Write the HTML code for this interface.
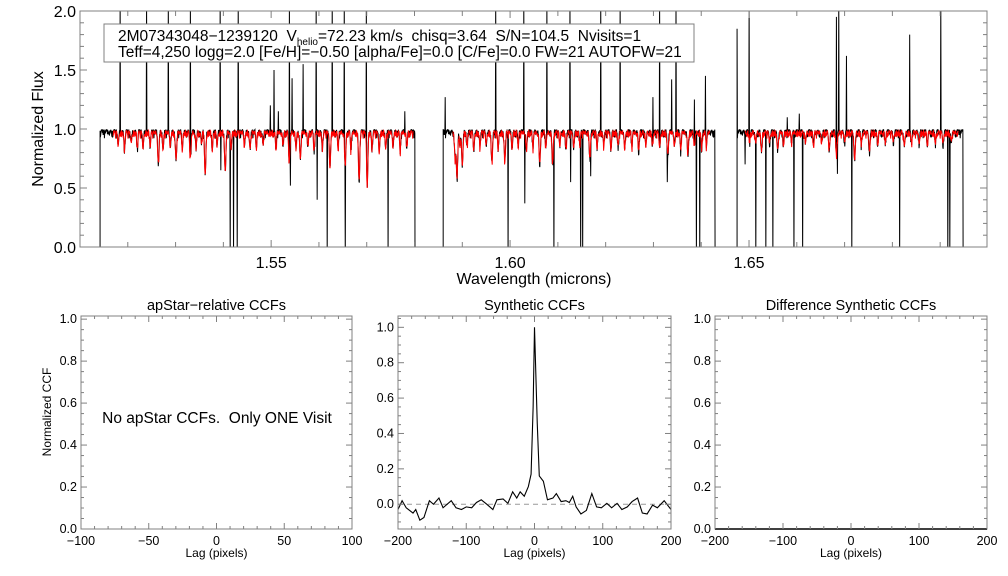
<!DOCTYPE html>
<html><head><meta charset="utf-8">
<style>
html,body{margin:0;padding:0;background:#fff;}
svg{display:block;font-family:"Liberation Sans",Arial,sans-serif;}
</style></head>
<body>
<svg id="chart" width="1008" height="576" viewBox="0 0 1008 576" xmlns="http://www.w3.org/2000/svg">
<defs>
<clipPath id="clipTop"><rect x="80" y="11" width="907" height="236"/></clipPath>
<clipPath id="clipMid"><rect x="398" y="316" width="273" height="213"/></clipPath>
</defs>
<rect width="1008" height="576" fill="#fff"/>
<g id="topPanel"></g>
<g id="p1"></g>
<g id="p2"></g>
<g id="p3"></g>
</svg>
<script>
// ---------- Spectrum data ----------
const chipStarts = [1.5142, 1.5860, 1.6475];
const chipEnds = [1.5801, 1.6429, 1.6948];
const modelStarts = [1.5169, 1.5880, 1.6492];
const modelEnds = [1.5797, 1.6418, 1.6938];
const weakLineWaves = [1.5180,1.5193,1.5207,1.5220,1.5232,1.5247,1.5274,1.5289,1.5314,1.5343,1.5354,1.5377,1.5387,1.5416,1.5444,1.5456,1.5469,1.5483,1.5510,1.5525,1.5552,1.5577,1.5590,1.5607,1.5640,1.5667,1.5711,1.5726,1.5740,1.5755,1.5770,1.5784,
1.5895,1.5910,1.5924,1.5937,1.5950,1.5975,1.6004,1.6017,1.6034,1.6048,1.6075,1.6104,1.6117,1.6133,1.6146,1.6182,1.6196,1.6211,1.6226,1.6240,1.6255,1.6269,1.6284,1.6298,1.6313,1.6344,1.6357,1.6386,1.6401,1.6411,
1.6501,1.6514,1.6543,1.6572,1.6589,1.6618,1.6635,1.6652,1.6700,1.6735,1.6769,1.6785,1.6802,1.6840,1.6856,1.6873,1.6890,1.6906,1.6923];
const weakLineFlux = [0.86,0.84,0.88,0.85,0.83,0.87,0.82,0.86,0.84,0.85,0.88,0.83,0.86,0.84,0.87,0.82,0.85,0.86,0.83,0.87,0.84,0.86,0.82,0.85,0.84,0.83,0.85,0.80,0.84,0.86,0.82,0.85,
0.84,0.86,0.82,0.85,0.87,0.83,0.84,0.86,0.82,0.85,0.84,0.86,0.83,0.85,0.87,0.84,0.86,0.83,0.85,0.84,0.86,0.82,0.85,0.87,0.84,0.86,0.83,0.85,0.84,0.86,
0.90,0.88,0.89,0.87,0.90,0.88,0.86,0.89,0.90,0.88,0.87,0.89,0.90,0.88,0.89,0.87,0.90,0.88,0.89];
const strongLineWaves = [1.5264,1.5301,1.5331,1.5362,1.5404,1.5538,1.5561,1.5623,1.5655,1.5684,1.5701,
1.5885,1.5889,1.5900,1.5962,1.5989,1.6062,1.6089,1.6167,1.6330,1.6372,
1.6526,1.6560,1.6668,1.6683,1.6721,1.6752,1.6825];
const strongLineFlux = [0.71,0.73,0.75,0.60,0.63,0.72,0.75,0.68,0.70,0.56,0.52,
0.75,0.57,0.70,0.72,0.73,0.72,0.72,0.77,0.78,0.80,
0.83,0.82,0.83,0.78,0.73,0.82,0.86];
// small-scale texture of the spectra (hand-read ripple amplitudes)
const ripple = [0.000,-0.025,0.010,-0.040,-0.005,0.015,-0.030,-0.060,0.005,-0.015,0.012,-0.045,-0.020,0.008,-0.035,0.004,-0.010,-0.070,-0.018,0.010,-0.028,-0.005,0.014,-0.050,-0.012,0.006,-0.038,-0.022,0.011,-0.008,-0.055,0.002,-0.016,0.009,-0.032,-0.004,0.013];
const spikeWaves = [1.5184,1.5239,1.5285,1.5331,1.5393,1.5431,1.5538,1.5594,1.5628,1.5653,1.5699,1.5498,1.5506,1.5515,1.5544,1.5567,1.5780,
1.5414,1.5421,1.5429,1.5617,1.5655,1.5745,1.5540,1.5596,1.5395,
1.5970,1.6029,1.6077,1.6125,1.6190,1.6230,1.6313,1.6347,1.5864,1.6338,1.6386,1.6299,1.6409,
1.5996,1.6092,1.6148,1.6152,1.6390,1.6397,1.6031,1.6127,1.6329,1.6169,
1.6500,1.6688,1.6901,1.6475,1.6683,1.6704,1.6836,1.6580,1.6605,
1.6514,1.6535,1.6550,1.6594,1.6612,1.6715,1.6815,1.6916,1.6920,1.6492,1.6685];
const spikeFlux = [2.1,2.1,2.1,2.1,2.1,2.1,2.1,2.1,2.1,2.1,2.1,1.2,1.5,1.15,1.43,1.55,1.15,
-0.1,-0.1,-0.1,-0.1,-0.1,-0.1,0.52,0.4,0.65,
2.1,2.1,2.1,2.1,2.1,2.1,2.1,2.1,1.27,1.42,1.25,1.27,1.45,
-0.1,-0.1,-0.1,-0.1,-0.1,-0.1,0.37,0.55,0.55,0.6,
2.1,2.1,2.1,1.85,1.95,1.62,1.8,1.1,1.13,
-0.1,-0.1,-0.1,-0.1,-0.1,-0.1,-0.1,-0.1,-0.1,0.7,0.62];
const specYTicks = [0.0,0.5,1.0,1.5,2.0];
const specXTicks = [1.55,1.60,1.65];

// ---------- CCF data ----------
const ccfLags = [-200,-194,-188,-178,-174,-168,-162,-154,-148,-140,-134,-122,-115,-107,-100,-92,-85,-78,-70,-61,-55,-46,-39,-32,-26,-21,-15,-9,-5,-2,0,4,7,13,19,27,32,39,46,51,56,61,68,76,84,91,98,106,113,121,128,136,143,151,158,165,173,180,190,200];
const ccfVals = [-0.03,0.02,-0.02,-0.05,-0.03,-0.09,-0.075,0.02,0.0,0.035,-0.02,0.02,-0.02,-0.03,-0.015,-0.02,0.01,0.025,0.0,-0.03,0.025,0.03,0.005,0.07,0.035,0.07,0.045,0.1,0.17,0.55,1.0,0.46,0.16,0.13,0.025,0.035,0.06,0.015,0.02,0.01,0.045,-0.015,-0.055,-0.035,0.06,-0.015,-0.02,0.005,-0.02,0.005,-0.03,-0.015,0.015,0.035,-0.05,-0.055,-0.005,-0.02,0.02,-0.03];
const diffLags = [-200,-100,0,100,200];
const diffVals = [0,0,0,0,0];
const ccfYTicks = [0.0,0.2,0.4,0.6,0.8,1.0];
const lagTicksNarrow = [-100,-50,0,50,100];
const lagTicksWide = [-200,-100,0,100,200];

const NS = "http://www.w3.org/2000/svg";
function mk(parent, tag, attrs){
  const e = document.createElementNS(NS, tag);
  for (const k in attrs) e.setAttribute(k, attrs[k]);
  parent.appendChild(e); return e;
}
const AX = "#808080";

// ---------- Spectrum panel ----------
const topG = document.getElementById('topPanel');
const X0=80, X1=987, Y0=11, Y1=247;
const WL0=1.5100, WL1=1.6998, F0=0, F1=2.0;
const sx = w => X0 + (w-WL0)/(WL1-WL0)*(X1-X0);
const sy = f => Y1 - (f-F0)/(F1-F0)*(Y1-Y0);

function modelFlux(w, cont){
  let f = cont;
  for (let i=0;i<weakLineWaves.length;i++){
    const d = (w-weakLineWaves[i])/0.00011;
    f -= (cont-weakLineFlux[i])*Math.exp(-0.5*d*d);
  }
  for (let i=0;i<strongLineWaves.length;i++){
    const d = (w-strongLineWaves[i])/0.00013;
    f -= (cont-strongLineFlux[i])*Math.exp(-0.5*d*d);
  }
  return f;
}
const step = 0.00007;
const obsG = mk(topG,'g',{'clip-path':'url(#clipTop)'});


const modG = mk(topG,'g',{'clip-path':'url(#clipTop)'});


for (let c=0;c<chipStarts.length;c++){
  const ws=[], fs=[];
  let k=0;
  for (let w=chipStarts[c]; w<=chipEnds[c]; w+=step){ ws.push(w); fs.push(modelFlux(w,0.985)+ripple[(k*7+c*5)%ripple.length]*0.9); k++; }
  for (let s=0;s<spikeWaves.length;s++){
    const w=spikeWaves[s];
    if (w<chipStarts[c]||w>chipEnds[c]) continue;
    const i=Math.round((w-chipStarts[c])/step);
    if (i>=0&&i<fs.length) fs[i]=spikeFlux[s];
  }
  let d = "M"+sx(chipStarts[c]).toFixed(2)+","+sy(-0.1).toFixed(2);
  for (let i=0;i<ws.length;i++) d+="L"+sx(ws[i]).toFixed(2)+","+sy(fs[i]).toFixed(2);
  d+="L"+sx(chipEnds[c]).toFixed(2)+","+sy(-0.1).toFixed(2);
  const p = mk(obsG,'path',{d:d,fill:'none',stroke:'#000','stroke-width':1});
  
  
  let dm=""; k=0;
  for (let w=modelStarts[c]; w<=modelEnds[c]; w+=step){
    const f = modelFlux(w,0.975)+ripple[(k*11+3+c)%ripple.length]*0.8;
    dm += (dm?"L":"M")+sx(w).toFixed(2)+","+sy(f).toFixed(2);
    k++;
  }
  const pm = mk(modG,'path',{d:dm,fill:'none',stroke:'#f00','stroke-width':1});
  
  
}
const fr = mk(topG,'rect',{x:X0,y:Y0,width:X1-X0,height:Y1-Y0,fill:'none',stroke:AX,'stroke-width':1});


for (let v=0; v<=20; v++){
  const f=v/10, y=sy(f), L=(v%5===0)?7:4;
  mk(topG,'line',{x1:X0,y1:y,x2:X0+L,y2:y,stroke:AX});
  mk(topG,'line',{x1:X1,y1:y,x2:X1-L,y2:y,stroke:AX});
}
for (let v=151; v<=169; v++){
  const w=v/100, x=sx(w), L=(v%5===0)?7:5;
  mk(topG,'line',{x1:x,y1:Y1,x2:x,y2:Y1-L,stroke:AX});
  mk(topG,'line',{x1:x,y1:Y0,x2:x,y2:Y0+L,stroke:AX});
}
specYTicks.forEach(v=>{
  const t=mk(topG,'text',{x:X0-4,y:sy(v)+6,'font-size':16,'text-anchor':'end'});
  t.textContent=v.toFixed(1);
  
  
});
specXTicks.forEach(v=>{
  const t=mk(topG,'text',{x:sx(v),y:268,'font-size':16,'text-anchor':'middle'});
  t.textContent=v.toFixed(2);
  
  
});
{
  const t=mk(topG,'text',{x:534,y:284,'font-size':16,'text-anchor':'middle'});
  t.textContent='Wavelength (microns)';
  
  
  const t2=mk(topG,'text',{x:0,y:0,'font-size':16,'text-anchor':'middle',transform:'translate(43,129) rotate(-90)'});
  t2.textContent='Normalized Flux';
  
  
  const box=mk(topG,'rect',{x:104,y:24,width:590,height:38,fill:'#fff',stroke:AX});
  
  
  const l1=mk(topG,'text',{x:118,y:41,'font-size':15.5,style:'white-space:pre'});
  
  
  const a=mk(l1,'tspan',{}); a.textContent='2M07343048\u22121239120  V';
  const b=mk(l1,'tspan',{'font-size':10,dy:4}); b.textContent='helio';
  const c2=mk(l1,'tspan',{dy:-4}); c2.textContent='=72.23 km/s  chisq=3.64  S/N=104.5  Nvisits=1';
  const l2=mk(topG,'text',{x:118,y:57,'font-size':15.5});
  l2.textContent='Teff=4,250 logg=2.0 [Fe/H]=\u22120.50 [alpha/Fe]=0.0 [C/Fe]=0.0 FW=21 AUTOFW=21';
  
  
}

// ---------- CCF panels ----------
function panel(g, x0, x1, y0, y1, lagMin, lagMax, vMin, vMax, xticks, xminor, title, lags, vals, clip, dashed){
  const px = l => x0 + (l-lagMin)/(lagMax-lagMin)*(x1-x0);
  const py = v => y1 - (v-vMin)/(vMax-vMin)*(y1-y0);
  if (dashed){
    const dl=mk(g,'line',{x1:x0,y1:py(0),x2:x1,y2:py(0),stroke:'#999','stroke-dasharray':'5,4'});
    
    
  }
  if (lags){
    let d="";
    lags.forEach((l,i)=>{ d+=(i?"L":"M")+px(l).toFixed(2)+","+py(vals[i]).toFixed(2); });
    const p=mk(g,'path',{d:d,fill:'none',stroke:'#000','stroke-width':dashed?1.1:2});
    if (clip) p.setAttribute('clip-path',clip);
    
    
  }
  const fr=mk(g,'rect',{x:x0,y:y0,width:x1-x0,height:y1-y0,fill:'none',stroke:AX});
  
  
  for (let v=Math.ceil(vMin*20); v<=Math.floor(vMax*20); v++){
    const y=py(v/20), L=(v%4===0)?6:3;
    mk(g,'line',{x1:x0,y1:y,x2:x0+L,y2:y,stroke:AX});
    mk(g,'line',{x1:x1,y1:y,x2:x1-L,y2:y,stroke:AX});
  }
  for (let l=lagMin; l<=lagMax+0.001; l+=xminor){
    const x=px(l), major=xticks.some(t=>Math.abs(t-l)<1e-6), L=major?6:3;
    mk(g,'line',{x1:x,y1:y1,x2:x,y2:y1-L,stroke:AX});
    mk(g,'line',{x1:x,y1:y0,x2:x,y2:y0+L,stroke:AX});
  }
  ccfYTicks.forEach(v=>{
    if (v<vMin||v>vMax) return;
    const t=mk(g,'text',{x:x0-4,y:py(v)+4,'font-size':12.5,'text-anchor':'end'});
    t.textContent=v.toFixed(1);
    
    
  });
  xticks.forEach(v=>{
    const t=mk(g,'text',{x:px(v),y:y1+16,'font-size':12.5,'text-anchor':'middle'});
    t.textContent=(v<0?'\u2212'+(-v):String(v));
    
    
  });
  const xt=mk(g,'text',{x:(x0+x1)/2,y:y1+28,'font-size':12,'text-anchor':'middle'});
  xt.textContent='Lag (pixels)';
  
  
  const tt=mk(g,'text',{x:(x0+x1)/2,y:y0-6,'font-size':14.5,'text-anchor':'middle'});
  tt.textContent=title;
  
  
}
const p1=document.getElementById('p1');
panel(p1,81,352,316,529,-100,100,0,1.015,lagTicksNarrow,10,'apStar\u2212relative CCFs',null,null,null,false);
{
  const t=mk(p1,'text',{x:217,y:423,'font-size':15.5,'text-anchor':'middle',style:'white-space:pre'});
  t.textContent='No apStar CCFs.  Only ONE Visit';
  
  
  const yt=mk(p1,'text',{x:0,y:0,'font-size':12,'text-anchor':'middle',transform:'translate(51,412) rotate(-90)'});
  yt.textContent='Normalized CCF';
  
  
}
panel(document.getElementById('p2'),398,671,316,529,-200,200,-0.14,1.064,lagTicksWide,20,'Synthetic CCFs',ccfLags,ccfVals,'url(#clipMid)',true);
panel(document.getElementById('p3'),715,987,316,529,-200,200,0,1.015,lagTicksWide,20,'Difference Synthetic CCFs',diffLags,diffVals,null,false);
</script>
</body></html>
